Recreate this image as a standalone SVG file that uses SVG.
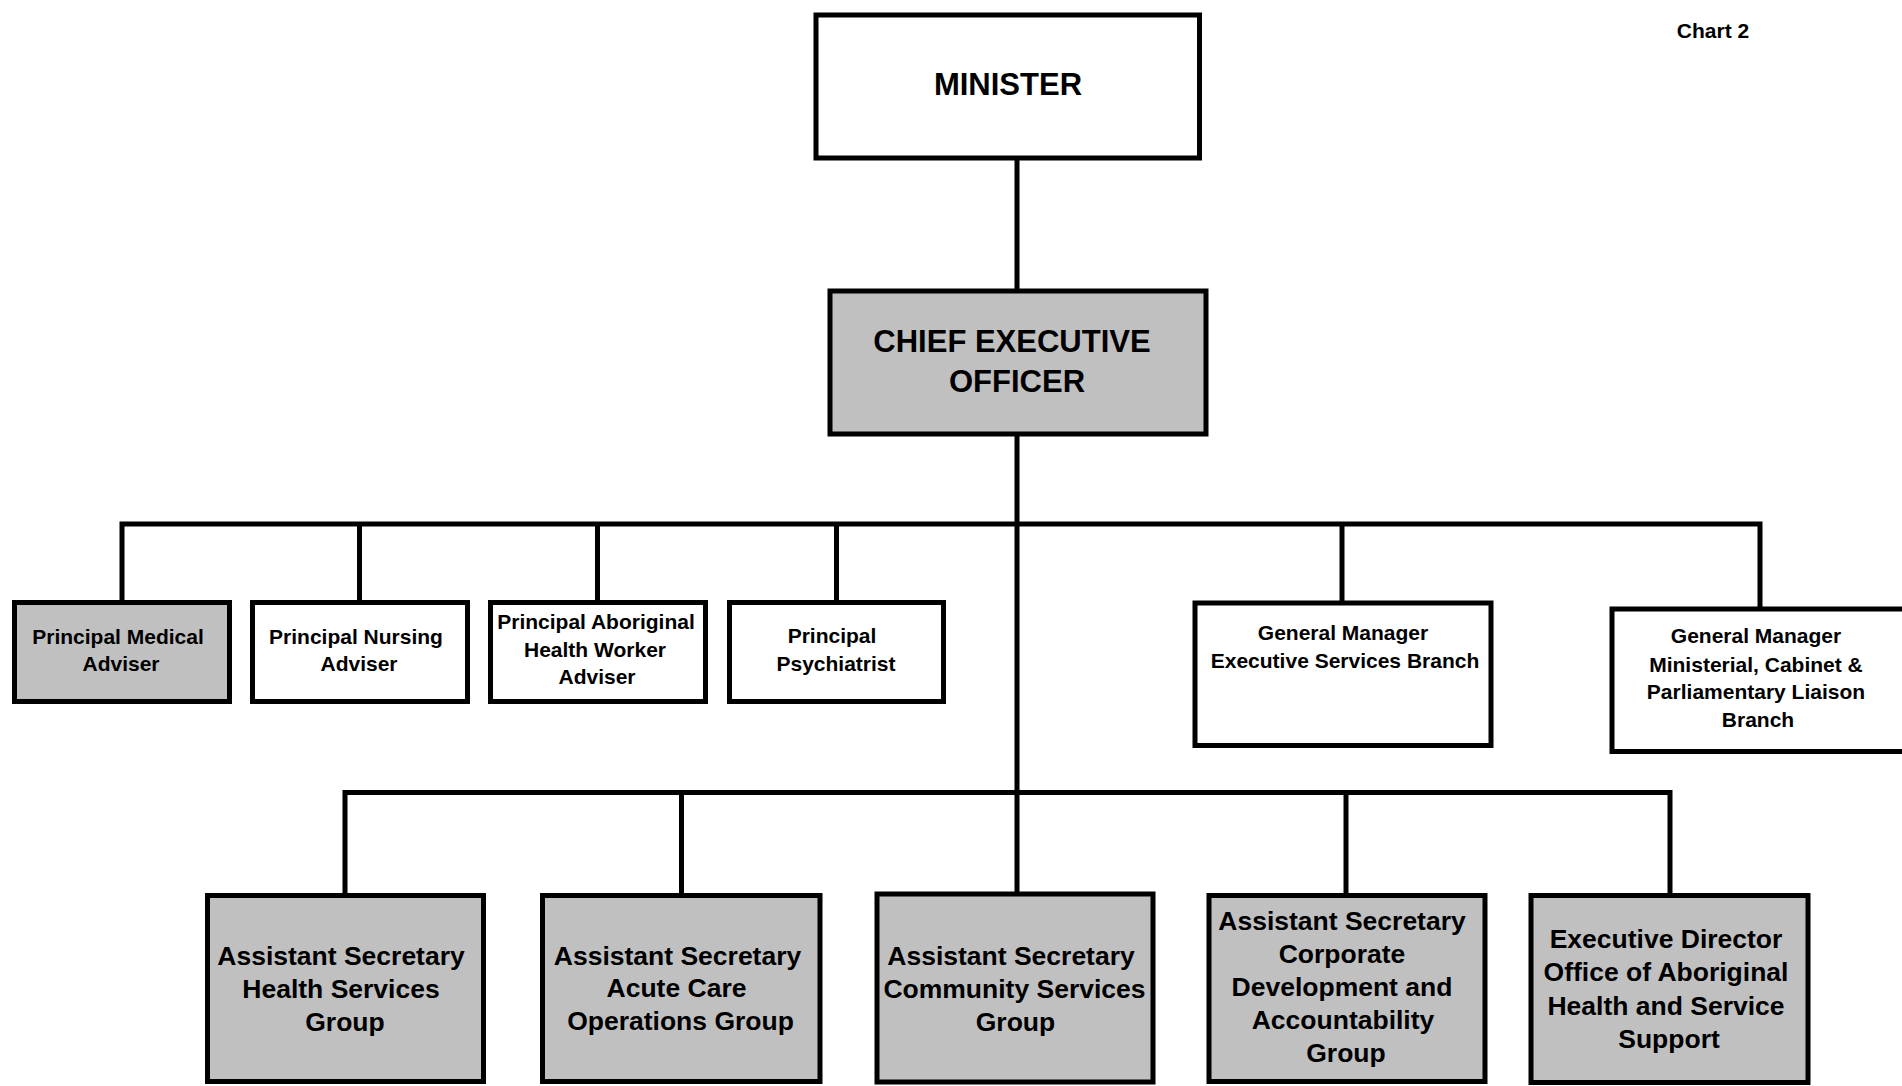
<svg xmlns="http://www.w3.org/2000/svg" width="1902" height="1086" viewBox="0 0 1902 1086">
  <style>
    .box { stroke: #000; stroke-width: 5; fill: #fff; }
    .grey { fill: #c0c0c0; }
    .lbl { font-family: "Liberation Sans", Arial, sans-serif; font-weight: bold; fill: #000; text-anchor: middle; }
    .big { font-size: 31px; }
    .mid { font-size: 26.5px; }
    .sm { font-size: 21px; }
    .wire { stroke: #000; stroke-width: 5; fill: none; }
  </style>
  <rect width="1902" height="1086" fill="#fff"/>

  <text class="lbl sm" x="1713" y="38">Chart 2</text>

  <!-- reporting lines -->
  <g id="connectors">
    <path class="wire" d="M1017 158 V291"/>
    <path class="wire" d="M1017 434 V895"/>
    <path class="wire" d="M122 602 V524 H1760 V609"/>
    <path class="wire" d="M359.5 524 V602"/>
    <path class="wire" d="M597.5 524 V602"/>
    <path class="wire" d="M836.5 524 V602"/>
    <path class="wire" d="M1342 524 V603"/>
    <path class="wire" d="M345 895 V792.5 H1670 V895"/>
    <path class="wire" d="M681.5 792.5 V895"/>
    <path class="wire" d="M1346 792.5 V895"/>
  </g>

  <g id="minister">
    <rect class="box" x="816" y="15" width="383.5" height="143"/>
    <text class="lbl big" x="1008" y="95">MINISTER</text>
  </g>

  <g id="ceo">
    <rect class="box grey" x="830" y="291" width="376" height="143"/>
    <text class="lbl big" x="1012" y="352">CHIEF EXECUTIVE</text>
    <text class="lbl big" x="1017" y="392">OFFICER</text>
  </g>

  <g id="medical-adviser">
    <rect class="box grey" x="14.5" y="602.5" width="215" height="99"/>
    <text class="lbl sm" x="118" y="644">Principal Medical</text>
    <text class="lbl sm" x="121" y="671">Adviser</text>
  </g>

  <g id="nursing-adviser">
    <rect class="box" x="252.5" y="602.5" width="215" height="99"/>
    <text class="lbl sm" x="356" y="644">Principal Nursing</text>
    <text class="lbl sm" x="359" y="671">Adviser</text>
  </g>

  <g id="aboriginal-health-worker-adviser">
    <rect class="box" x="490.5" y="602.5" width="215" height="99"/>
    <text class="lbl sm" x="596" y="629">Principal Aboriginal</text>
    <text class="lbl sm" x="595" y="657">Health Worker</text>
    <text class="lbl sm" x="597" y="684">Adviser</text>
  </g>

  <g id="psychiatrist">
    <rect class="box" x="729.5" y="602.5" width="214" height="99"/>
    <text class="lbl sm" x="832" y="643">Principal</text>
    <text class="lbl sm" x="836" y="671">Psychiatrist</text>
  </g>

  <g id="executive-services">
    <rect class="box" x="1195" y="603" width="296" height="142.5"/>
    <text class="lbl sm" x="1343" y="640">General Manager</text>
    <text class="lbl sm" x="1345" y="668">Executive Services Branch</text>
  </g>

  <g id="ministerial-liaison">
    <rect class="box" x="1612" y="609" width="300" height="142.5"/>
    <text class="lbl sm" x="1756" y="643">General Manager</text>
    <text class="lbl sm" x="1756" y="671.5">Ministerial, Cabinet &amp;</text>
    <text class="lbl sm" x="1756" y="699">Parliamentary Liaison</text>
    <text class="lbl sm" x="1758" y="727">Branch</text>
  </g>

  <g id="health-services">
    <rect class="box grey" x="207.5" y="895.5" width="276" height="186"/>
    <text class="lbl mid" x="341" y="965">Assistant Secretary</text>
    <text class="lbl mid" x="341" y="998">Health Services</text>
    <text class="lbl mid" x="345" y="1031">Group</text>
  </g>

  <g id="acute-care">
    <rect class="box grey" x="542.5" y="895.5" width="277.5" height="186"/>
    <text class="lbl mid" x="677.5" y="965">Assistant Secretary</text>
    <text class="lbl mid" x="676.5" y="997">Acute Care</text>
    <text class="lbl mid" x="680.5" y="1030">Operations Group</text>
  </g>

  <g id="community-services">
    <rect class="box grey" x="877" y="894" width="276" height="188"/>
    <text class="lbl mid" x="1011" y="965">Assistant Secretary</text>
    <text class="lbl mid" x="1014.5" y="998">Community Services</text>
    <text class="lbl mid" x="1015.5" y="1031">Group</text>
  </g>

  <g id="corporate-development">
    <rect class="box grey" x="1209" y="895.5" width="276" height="186"/>
    <text class="lbl mid" x="1342" y="930">Assistant Secretary</text>
    <text class="lbl mid" x="1342" y="963">Corporate</text>
    <text class="lbl mid" x="1342" y="996">Development and</text>
    <text class="lbl mid" x="1343" y="1029">Accountability</text>
    <text class="lbl mid" x="1346" y="1062">Group</text>
  </g>

  <g id="aboriginal-health-office">
    <rect class="box grey" x="1531" y="895.5" width="277" height="187"/>
    <text class="lbl mid" x="1666" y="948">Executive Director</text>
    <text class="lbl mid" x="1666" y="981">Office of Aboriginal</text>
    <text class="lbl mid" x="1666" y="1014.5">Health and Service</text>
    <text class="lbl mid" x="1669" y="1048">Support</text>
  </g>
</svg>
